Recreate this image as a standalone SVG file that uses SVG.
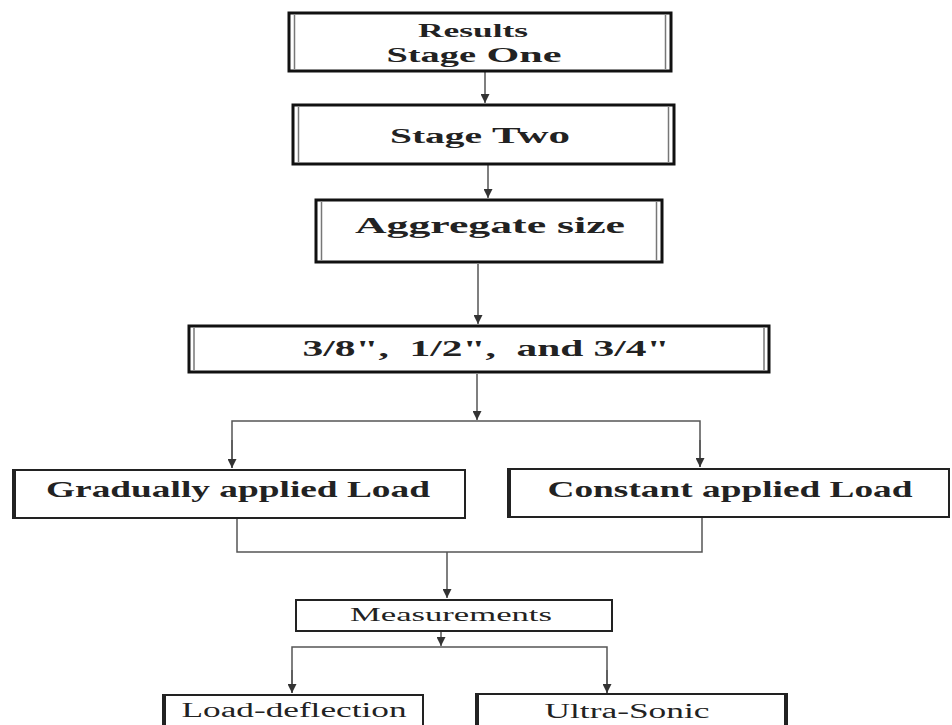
<svg xmlns="http://www.w3.org/2000/svg" width="952" height="725" viewBox="0 0 952 725">
<style>
.box{fill:#fff;stroke:#111;stroke-width:3}
.inner{stroke:#777;stroke-width:1.5;fill:none}
.box2{fill:#fff;stroke:#222;stroke-width:2}
.tb{font-family:"Liberation Serif","Times New Roman",serif;font-weight:bold;fill:#222}
.tr{font-family:"Liberation Serif","Times New Roman",serif;fill:#222}
.ln{stroke:#555;stroke-width:1.5;fill:none}
</style>
<defs>
<marker id="ah" viewBox="0 0 10 10" refX="10" refY="5" markerWidth="9" markerHeight="9" markerUnits="userSpaceOnUse" orient="auto">
<path d="M0,0 L10,5 L0,10 z" fill="#333"/>
</marker>
</defs>
<rect width="952" height="725" fill="#fff"/>
<g id="connectors">
<line class="ln" x1="485" y1="72" x2="485" y2="103" marker-end="url(#ah)"/>
<line class="ln" x1="488" y1="165" x2="488" y2="198" marker-end="url(#ah)"/>
<line class="ln" x1="478" y1="264" x2="478" y2="324" marker-end="url(#ah)"/>
<line class="ln" x1="477" y1="374" x2="477" y2="420" marker-end="url(#ah)"/>
<polyline class="ln" points="232,468 232,421 700,421 700,467"/>
<line class="ln" x1="232" y1="440" x2="232" y2="468" marker-end="url(#ah)"/>
<line class="ln" x1="700" y1="440" x2="700" y2="467" marker-end="url(#ah)"/>
<polyline class="ln" points="237,518 237,552 702,552 702,517"/>
<line class="ln" x1="447" y1="552" x2="447" y2="598" marker-end="url(#ah)"/>
<line class="ln" x1="441" y1="632" x2="441" y2="646" marker-end="url(#ah)"/>
<polyline class="ln" points="292,693 292,647 607,647 607,693"/>
<line class="ln" x1="292" y1="670" x2="292" y2="693" marker-end="url(#ah)"/>
<line class="ln" x1="607" y1="670" x2="607" y2="693" marker-end="url(#ah)"/>
</g>
<g id="n1">
<rect class="box" x="289" y="13" width="382" height="58"/>
<line class="inner" x1="294.5" y1="15" x2="294.5" y2="69"/>
<line class="inner" x1="665.5" y1="15" x2="665.5" y2="69"/>
<text class="tb" x="473" y="37" font-size="18" text-anchor="middle" textLength="110" lengthAdjust="spacingAndGlyphs">Results</text>
<text class="tb" x="474" y="62" font-size="22" text-anchor="middle" textLength="175" lengthAdjust="spacingAndGlyphs"><tspan font-size="20">Stage</tspan> One</text>
</g>
<g id="n2">
<rect class="box" x="293" y="105" width="381" height="59"/>
<line class="inner" x1="298.5" y1="107" x2="298.5" y2="162"/>
<line class="inner" x1="668.5" y1="107" x2="668.5" y2="162"/>
<text class="tb" x="480" y="143" font-size="24" text-anchor="middle" textLength="180" lengthAdjust="spacingAndGlyphs"><tspan font-size="22">Stage</tspan> Two</text>
</g>
<g id="n3">
<rect class="box" x="316" y="200" width="346" height="62"/>
<line class="inner" x1="321.5" y1="202" x2="321.5" y2="260"/>
<line class="inner" x1="656.5" y1="202" x2="656.5" y2="260"/>
<text class="tb" x="490" y="233" font-size="24" text-anchor="middle" textLength="270" lengthAdjust="spacingAndGlyphs">Aggregate size</text>
</g>
<g id="n4">
<rect class="box" x="189" y="326" width="580" height="46"/>
<line class="inner" x1="194" y1="328" x2="194" y2="370"/>
<line class="inner" x1="764" y1="328" x2="764" y2="370"/>
<text class="tb" x="486" y="356" font-size="23" text-anchor="middle" textLength="367" lengthAdjust="spacingAndGlyphs">3/8",&#160; 1/2",&#160; and 3/4"</text>
</g>
<g id="n5">
<rect class="box2" x="13" y="470" width="452" height="48"/>
<line stroke="#222" stroke-width="2" x1="15" y1="470" x2="15" y2="518"/>
<text class="tb" x="238" y="497" font-size="23" text-anchor="middle" textLength="384" lengthAdjust="spacingAndGlyphs">Gradually applied Load</text>
</g>
<g id="n6">
<rect class="box2" x="508" y="469" width="441" height="48"/>
<line stroke="#222" stroke-width="2" x1="510" y1="469" x2="510" y2="517"/>
<text class="tb" x="730" y="497" font-size="23" text-anchor="middle" textLength="365" lengthAdjust="spacingAndGlyphs">Constant applied Load</text>
</g>
<g id="n7">
<rect class="box2" x="296" y="600" width="316" height="31"/>
<text class="tr" x="451" y="621" font-size="19" text-anchor="middle" textLength="202" lengthAdjust="spacingAndGlyphs">Measurements</text>
</g>
<g id="n8">
<rect class="box2" x="163" y="695" width="260" height="40"/>
<line stroke="#222" stroke-width="2" x1="165" y1="695" x2="165" y2="730"/>
<text class="tr" x="294" y="717" font-size="20" text-anchor="middle" textLength="225" lengthAdjust="spacingAndGlyphs">Load-deflection</text>
</g>
<g id="n9">
<rect class="box2" x="476" y="694" width="311" height="40"/>
<line stroke="#222" stroke-width="2" x1="478" y1="694" x2="478" y2="730"/>
<line stroke="#222" stroke-width="2" x1="785" y1="694" x2="785" y2="730"/>
<text class="tr" x="627" y="718" font-size="20" text-anchor="middle" textLength="165" lengthAdjust="spacingAndGlyphs">Ultra-Sonic</text>
</g>
</svg>
